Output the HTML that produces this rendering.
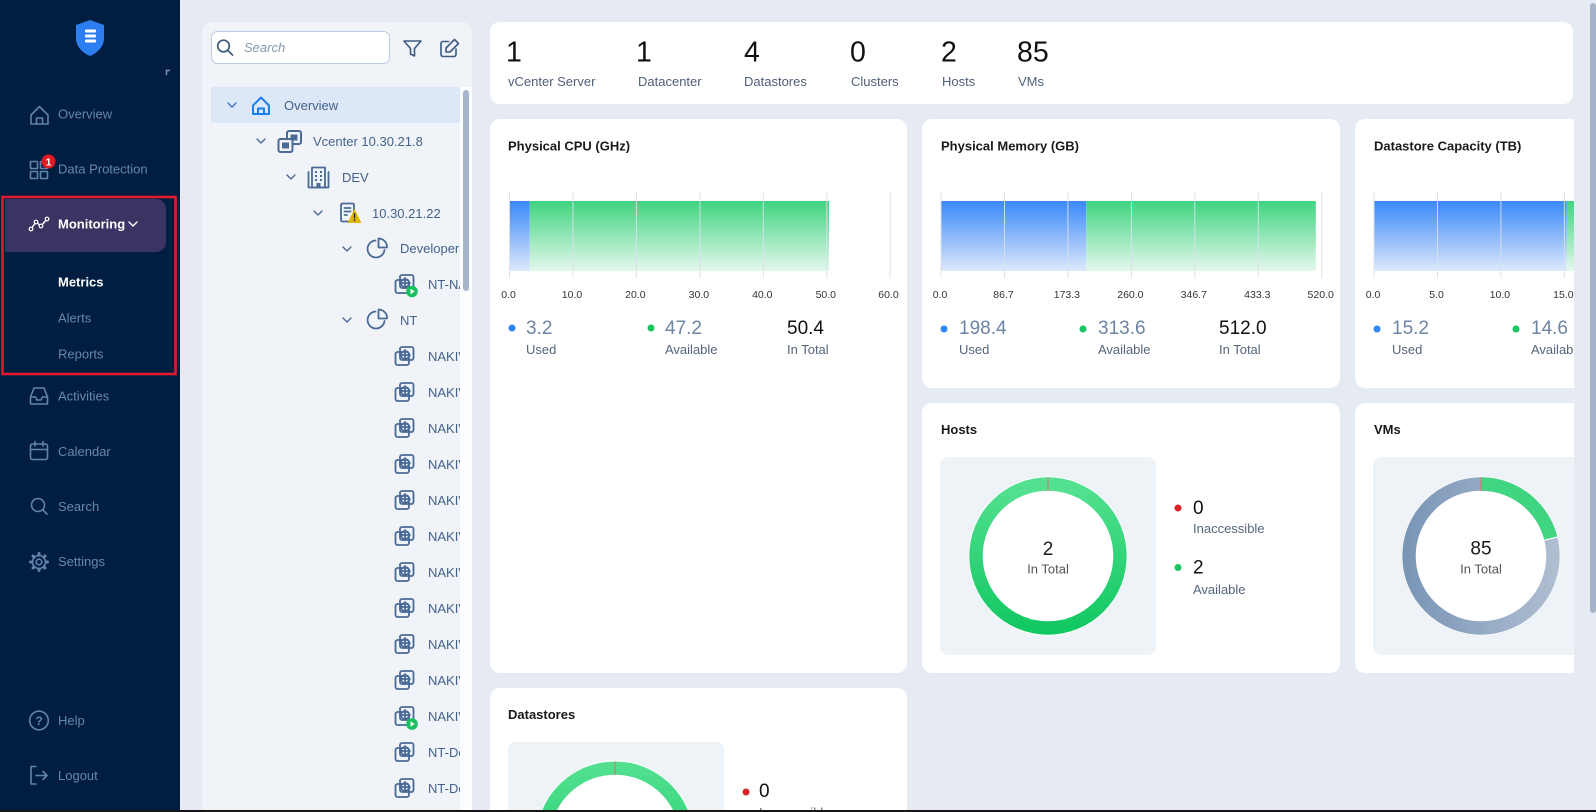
<!DOCTYPE html>
<html>
<head>
<meta charset="utf-8">
<style>
html,body{margin:0;padding:0;width:1596px;height:812px;overflow:hidden;background:#e6eaf2;}
svg{display:block;font-family:"Liberation Sans",Arial,sans-serif;}
.nav{font-size:13px;fill:#6886ae;}
.tr{font-size:13px;fill:#45618a;}
.num{font-size:28.5px;fill:#111;}
.lab{font-size:13px;fill:#4f5f78;}
.ttl{font-size:13px;font-weight:bold;fill:#1a1a1a;}
.tick{font-size:10.5px;fill:#333;text-anchor:middle;}
.val{font-size:19px;fill:#6d84a4;}
.tot{font-size:19px;fill:#111;}
.ll{font-size:13px;fill:#55657b;}
.ic{fill:none;stroke:#6383ab;stroke-width:1.6;stroke-linejoin:round;stroke-linecap:round;}
.ti{fill:none;stroke:#4a6a95;stroke-width:1.8;stroke-linejoin:round;stroke-linecap:round;}
.ch{fill:none;stroke:#4b6c98;stroke-width:1.4;stroke-linecap:round;stroke-linejoin:round;}
</style>
</head>
<body>
<svg width="1596" height="812" viewBox="0 0 1596 812" xmlns="http://www.w3.org/2000/svg">
<defs>
  <linearGradient id="gb" x1="0" y1="0" x2="0" y2="1"><stop offset="0" stop-color="#3a88f7"/><stop offset="1" stop-color="#dde9fd"/></linearGradient>
  <linearGradient id="gg" x1="0" y1="0" x2="0" y2="1"><stop offset="0" stop-color="#3fd47f"/><stop offset="1" stop-color="#e4f8ed"/></linearGradient>
  <linearGradient id="dh" x1="0" y1="0" x2="0" y2="1"><stop offset="0" stop-color="#54e191"/><stop offset="1" stop-color="#12c862"/></linearGradient>
  <linearGradient id="dhu" gradientUnits="userSpaceOnUse" x1="0" y1="761" x2="0" y2="919"><stop offset="0" stop-color="#54e191"/><stop offset="1" stop-color="#12c862"/></linearGradient>
  <linearGradient id="dv" x1="0" y1="0" x2="1" y2="0"><stop offset="0" stop-color="#7a96b7"/><stop offset="1" stop-color="#aebdd0"/></linearGradient>
  <linearGradient id="dvg" x1="0" y1="0" x2="1" y2="1"><stop offset="0" stop-color="#55e192"/><stop offset="1" stop-color="#3bd37d"/></linearGradient>
  <clipPath id="main"><rect x="490" y="0" width="1084" height="810"/></clipPath>
  <clipPath id="tree"><rect x="202" y="80" width="258" height="730"/></clipPath>
</defs>

<!-- page bg -->
<rect x="0" y="0" width="1596" height="812" fill="#e6eaf2"/>

<!-- ============ SIDEBAR ============ -->
<rect x="0" y="0" width="180" height="812" fill="#011e40"/>
<path d="M90 20 L104 25 L104 38 C104 47 97 53 90 56 C83 53 76 47 76 38 L76 25 Z" fill="#2d7ff0"/>
<rect x="85" y="29.5" width="11" height="3" rx="1" fill="#fff"/>
<rect x="85" y="34.5" width="11" height="3" rx="1" fill="#fff"/>
<rect x="85" y="39.5" width="11" height="3" rx="1" fill="#fff"/>
<path d="M166.5 75 V70.5 H170" fill="none" stroke="#8494ab" stroke-width="1.5"/>

<!-- Overview -->
<path class="ic" d="M31 115 L39.5 106.5 L48 115 V124 H31 Z M36.5 124 V118 H42.5 V124"/>
<text class="nav" x="58" y="118.5">Overview</text>
<!-- Data Protection -->
<rect class="ic" x="30.5" y="161.5" width="7" height="7" rx="0.5"/>
<rect class="ic" x="40.5" y="161.5" width="7" height="7" rx="0.5"/>
<rect class="ic" x="30.5" y="171.5" width="7" height="7" rx="0.5"/>
<rect class="ic" x="40.5" y="171.5" width="7" height="7" rx="0.5"/>
<circle cx="48.5" cy="161.5" r="7" fill="#e01b24"/>
<text x="48.5" y="165.5" font-size="10.5" font-weight="bold" fill="#fff" text-anchor="middle">1</text>
<text class="nav" x="58" y="173.5">Data Protection</text>

<!-- Monitoring highlight -->
<path d="M5 199 H156 A10 10 0 0 1 166 209 V242 A10 10 0 0 1 156 252 H5 Z" fill="#3b3462"/>
<polyline points="31,229 36,222 41,226 47,219" fill="none" stroke="#fff" stroke-width="1.4"/>
<circle cx="31" cy="229" r="1.8" fill="#3b3462" stroke="#fff" stroke-width="1.2"/>
<circle cx="36" cy="222" r="1.8" fill="#3b3462" stroke="#fff" stroke-width="1.2"/>
<circle cx="41" cy="226" r="1.8" fill="#3b3462" stroke="#fff" stroke-width="1.2"/>
<circle cx="47" cy="219" r="1.8" fill="#3b3462" stroke="#fff" stroke-width="1.2"/>
<text x="58" y="228.5" font-size="13" font-weight="bold" fill="#fff">Monitoring</text>
<polyline points="129,222 133,226 137,222" fill="none" stroke="#fff" stroke-width="1.4" stroke-linecap="round"/>
<text x="58" y="286.5" font-size="13" font-weight="bold" fill="#fff">Metrics</text>
<text class="nav" x="58" y="322.5">Alerts</text>
<text class="nav" x="58" y="358.5">Reports</text>
<rect x="2.5" y="197" width="173" height="177" fill="none" stroke="#e21b2c" stroke-width="2.6"/>

<!-- Activities -->
<path class="ic" d="M30.5 397 L34 388 H44 L47.5 397 V404 H30.5 Z M30.5 397 H35.5 L37 400 H41 L42.5 397 H47.5"/>
<text class="nav" x="58" y="400.5">Activities</text>
<!-- Calendar -->
<rect class="ic" x="30.5" y="444" width="17" height="15.5" rx="2"/>
<path class="ic" d="M30.5 449.5 H47.5 M35 441.5 V446 M43 441.5 V446"/>
<text class="nav" x="58" y="456">Calendar</text>
<!-- Search -->
<circle class="ic" cx="38" cy="505" r="6.5"/>
<path class="ic" d="M42.8 509.8 L47 514"/>
<text class="nav" x="58" y="511">Search</text>
<!-- Settings -->
<g transform="translate(39 562)">
  <circle class="ic" r="6.5"/>
  <circle class="ic" r="2.8"/>
  <g stroke="#6383ab" stroke-width="3" stroke-linecap="round">
    <line x1="0" y1="-7" x2="0" y2="-8.5"/><line x1="0" y1="7" x2="0" y2="8.5"/>
    <line x1="-7" y1="0" x2="-8.5" y2="0"/><line x1="7" y1="0" x2="8.5" y2="0"/>
    <line x1="4.9" y1="4.9" x2="6" y2="6"/><line x1="-4.9" y1="-4.9" x2="-6" y2="-6"/>
    <line x1="4.9" y1="-4.9" x2="6" y2="-6"/><line x1="-4.9" y1="4.9" x2="-6" y2="6"/>
  </g>
</g>
<text class="nav" x="58" y="566">Settings</text>
<!-- Help -->
<circle class="ic" cx="39" cy="720.5" r="9.3"/>
<text x="39" y="725" font-size="12" font-weight="bold" fill="#6383ab" text-anchor="middle">?</text>
<text class="nav" x="58" y="725">Help</text>
<!-- Logout -->
<path class="ic" d="M36 766.5 H31 V784 H36 M36 775.5 H47 M43 771.5 L47 775.5 L43 779.5"/>
<text class="nav" x="58" y="780">Logout</text>

<!-- ============ TREE PANEL ============ -->
<path d="M202 810 V32 A10 10 0 0 1 212 22 H462 A10 10 0 0 1 472 32 V810 Z" fill="#f0f4f9"/>
<rect x="211.5" y="31.5" width="178" height="32" rx="6" fill="#fff" stroke="#bccbe0"/>
<circle cx="223.5" cy="46" r="5.8" fill="none" stroke="#3d5a80" stroke-width="1.7"/>
<path d="M227.8 50.3 L232.5 55" stroke="#3d5a80" stroke-width="1.7" stroke-linecap="round"/>
<text x="244" y="52" font-size="13" font-style="italic" fill="#8798b0">Search</text>
<path d="M404 41 H421 L414.5 48.5 V56 L410.5 54 V48.5 Z" fill="none" stroke="#3d5a80" stroke-width="1.6" stroke-linejoin="round"/>
<path d="M448.5 41.5 H443 A2 2 0 0 0 441 43.5 V54.5 A2 2 0 0 0 443 56.5 H454 A2 2 0 0 0 456 54.5 V49" fill="none" stroke="#3d5a80" stroke-width="1.6" stroke-linecap="round"/>
<path d="M454.5 39.5 L458.5 43.5 L450 52 H446 V48 Z" fill="none" stroke="#3d5a80" stroke-width="1.6" stroke-linejoin="round"/>

<rect x="460" y="87" width="12" height="723" fill="#fcfdfe"/>
<rect x="463" y="90" width="6" height="201" rx="3" fill="#a6b5c9"/>

<g clip-path="url(#tree)">
<rect x="211" y="87" width="249" height="36" fill="#dce8f8"/>
<polyline points="228,103 232,107 236,103" fill="none" stroke="#3a78d0" stroke-width="1.4" stroke-linecap="round"/>
<path d="M253 105.5 L261 97.5 L269 105.5 V114 H253 Z M258 114 V108.5 H264 V114" fill="none" stroke="#1a7ff0" stroke-width="2" stroke-linejoin="round"/>
<text class="tr" x="284" y="110">Overview</text>

<polyline class="ch" points="257,139 261,143 265,139"/>
<rect x="287" y="131" width="14" height="13" rx="2" fill="none" stroke="#4a6a95" stroke-width="2"/>
<rect x="290.5" y="134.5" width="7" height="6" fill="#4a6a95"/>
<rect x="278.5" y="139" width="14" height="13" rx="2" fill="#f0f4f9" stroke="#4a6a95" stroke-width="2"/>
<rect x="282" y="142.5" width="7" height="6" fill="#4a6a95"/>
<text class="tr" x="313" y="146">Vcenter 10.30.21.8</text>

<polyline class="ch" points="287,175 291,179 295,175"/>
<rect class="ti" x="312" y="167.5" width="13" height="20"/>
<path class="ti" d="M308.5 172 V187.5 H328.5 V172"/>
<g fill="#4a6a95"><rect x="315" y="171" width="2" height="2"/><rect x="320" y="171" width="2" height="2"/><rect x="315" y="175" width="2" height="2"/><rect x="320" y="175" width="2" height="2"/><rect x="315" y="179" width="2" height="2"/><rect x="320" y="179" width="2" height="2"/><rect x="316.5" y="183" width="4" height="4.5"/></g>
<text class="tr" x="342" y="182">DEV</text>

<polyline class="ch" points="314,211 318,215 322,211"/>
<rect class="ti" x="341" y="203.5" width="13" height="18" rx="1.5"/>
<path class="ti" d="M344.5 208 H350.5 M344.5 211.5 H350.5 M344.5 215 H347"/>
<polygon points="354.5,209 361.5,223 347.5,223" fill="#e0b600"/>
<rect x="353.8" y="213" width="1.4" height="5.5" fill="#1e2a3a"/>
<rect x="353.8" y="219.5" width="1.4" height="1.5" fill="#1e2a3a"/>
<text class="tr" x="372" y="218">10.30.21.22</text>

<polyline class="ch" points="343,247 347,251 351,247"/>
<path class="ti" d="M375.5 240.5 A8.5 8.5 0 1 0 384.5 250"/>
<path class="ti" d="M378.5 238.5 V247.5 H387 A8.5 8.5 0 0 0 378.5 238.5 Z"/>
<text class="tr" x="400" y="253">Developers</text>

<rect class="ti" x="400" y="275" width="13.5" height="13" rx="2"/>
<rect class="ti" x="395.5" y="280" width="13.5" height="13" rx="2" fill="#f0f4f9"/>
<circle class="ti" cx="405" cy="283" r="4"/>
<path class="ti" d="M405 278 V288 M400 283 H410"/>
<circle cx="412" cy="291.5" r="5.8" fill="#16c25d"/>
<polygon points="410.5,288.8 414.8,291.5 410.5,294.2" fill="#fff"/>
<text class="tr" x="428" y="289">NT-NAKIVO</text>

<polyline class="ch" points="343,318 347,322 351,318"/>
<path class="ti" d="M375.5 311.5 A8.5 8.5 0 1 0 384.5 321"/>
<path class="ti" d="M378.5 309.5 V318.5 H387 A8.5 8.5 0 0 0 378.5 309.5 Z"/>
<text class="tr" x="400" y="325">NT</text>

<g id="vmrow">
<rect class="ti" x="400" y="347" width="13.5" height="13" rx="2"/>
<rect class="ti" x="395.5" y="352" width="13.5" height="13" rx="2" fill="#f0f4f9"/>
<circle class="ti" cx="405" cy="355" r="4"/>
<path class="ti" d="M405 350 V360 M400 355 H410"/>
<text class="tr" x="428" y="361">NAKIVO-VM</text>
</g>
<use href="#vmrow" y="36"/>
<use href="#vmrow" y="72"/>
<use href="#vmrow" y="108"/>
<use href="#vmrow" y="144"/>
<use href="#vmrow" y="180"/>
<use href="#vmrow" y="216"/>
<use href="#vmrow" y="252"/>
<use href="#vmrow" y="288"/>
<use href="#vmrow" y="324"/>
<use href="#vmrow" y="360"/>
<circle cx="412" cy="724" r="5.8" fill="#16c25d"/>
<polygon points="410.5,721.3 414.8,724 410.5,726.7" fill="#fff"/>
<g transform="translate(0 396)">
<rect class="ti" x="400" y="347" width="13.5" height="13" rx="2"/>
<rect class="ti" x="395.5" y="352" width="13.5" height="13" rx="2" fill="#f0f4f9"/>
<circle class="ti" cx="405" cy="355" r="4"/>
<path class="ti" d="M405 350 V360 M400 355 H410"/>
<text class="tr" x="428" y="361">NT-Dev-01</text>
</g>
<g transform="translate(0 432)">
<rect class="ti" x="400" y="347" width="13.5" height="13" rx="2"/>
<rect class="ti" x="395.5" y="352" width="13.5" height="13" rx="2" fill="#f0f4f9"/>
<circle class="ti" cx="405" cy="355" r="4"/>
<path class="ti" d="M405 350 V360 M400 355 H410"/>
<text class="tr" x="428" y="361">NT-Dev-02</text>
</g>
</g>

<!-- ============ MAIN CONTENT ============ -->
<g clip-path="url(#main)">
<!-- stats -->
<rect x="490" y="22" width="1083" height="82" rx="10" fill="#fff"/>
<text class="num" x="506" y="61.5">1</text><text class="lab" x="508" y="86">vCenter Server</text>
<text class="num" x="636" y="61.5">1</text><text class="lab" x="638" y="86">Datacenter</text>
<text class="num" x="744" y="61.5">4</text><text class="lab" x="744" y="86">Datastores</text>
<text class="num" x="850" y="61.5">0</text><text class="lab" x="851" y="86">Clusters</text>
<text class="num" x="941" y="61.5">2</text><text class="lab" x="942" y="86">Hosts</text>
<text class="num" x="1017" y="61.5">85</text><text class="lab" x="1018" y="86">VMs</text>

<!-- CPU card -->
<rect x="490" y="119" width="417" height="554" rx="10" fill="#fff"/>
<text class="ttl" x="508" y="150.5">Physical CPU (GHz)</text>
<rect x="509.5" y="201" width="20.3" height="70" fill="url(#gb)"/>
<rect x="529.8" y="201" width="299.2" height="70" fill="url(#gg)"/>
<g stroke="#d9e1ec" stroke-width="1" opacity="0.9">
<line x1="509.5" y1="192" x2="509.5" y2="278"/><line x1="573" y1="192" x2="573" y2="278"/><line x1="636.4" y1="192" x2="636.4" y2="278"/><line x1="699.9" y1="192" x2="699.9" y2="278"/><line x1="763.3" y1="192" x2="763.3" y2="278"/><line x1="826.8" y1="192" x2="826.8" y2="278"/><line x1="890.2" y1="192" x2="890.2" y2="278"/>
</g>
<text class="tick" x="508.5" y="298">0.0</text><text class="tick" x="572" y="298">10.0</text><text class="tick" x="635.4" y="298">20.0</text><text class="tick" x="698.9" y="298">30.0</text><text class="tick" x="762.3" y="298">40.0</text><text class="tick" x="825.8" y="298">50.0</text><text class="tick" x="888.5" y="298">60.0</text>
<circle cx="512" cy="328" r="3.5" fill="#2f86f6"/>
<text class="val" x="526" y="334">3.2</text><text class="ll" x="526" y="354">Used</text>
<circle cx="651" cy="328" r="3.5" fill="#19c463"/>
<text class="val" x="665" y="334">47.2</text><text class="ll" x="665" y="354">Available</text>
<text class="tot" x="787" y="334">50.4</text><text class="ll" x="787" y="354">In Total</text>

<!-- Memory card -->
<rect x="922" y="119" width="418" height="269" rx="10" fill="#fff"/>
<text class="ttl" x="941" y="150.5">Physical Memory (GB)</text>
<rect x="941" y="201" width="145.2" height="70" fill="url(#gb)"/>
<rect x="1086.2" y="201" width="229.6" height="70" fill="url(#gg)"/>
<g stroke="#d9e1ec" stroke-width="1" opacity="0.9">
<line x1="941" y1="192" x2="941" y2="278"/><line x1="1004.5" y1="192" x2="1004.5" y2="278"/><line x1="1067.9" y1="192" x2="1067.9" y2="278"/><line x1="1131.4" y1="192" x2="1131.4" y2="278"/><line x1="1194.8" y1="192" x2="1194.8" y2="278"/><line x1="1258.3" y1="192" x2="1258.3" y2="278"/><line x1="1321.7" y1="192" x2="1321.7" y2="278"/>
</g>
<text class="tick" x="940" y="298">0.0</text><text class="tick" x="1003.5" y="298">86.7</text><text class="tick" x="1066.9" y="298">173.3</text><text class="tick" x="1130.4" y="298">260.0</text><text class="tick" x="1193.8" y="298">346.7</text><text class="tick" x="1257.3" y="298">433.3</text><text class="tick" x="1320.7" y="298">520.0</text>
<circle cx="944" cy="329" r="3.5" fill="#2f86f6"/>
<text class="val" x="959" y="334">198.4</text><text class="ll" x="959" y="354">Used</text>
<circle cx="1083" cy="329" r="3.5" fill="#19c463"/>
<text class="val" x="1098" y="334">313.6</text><text class="ll" x="1098" y="354">Available</text>
<text class="tot" x="1219" y="334">512.0</text><text class="ll" x="1219" y="354">In Total</text>

<!-- Datastore capacity card (clipped at right) -->
<rect x="1355" y="119" width="219" height="269" rx="10" fill="#fff"/>
<rect x="1560" y="119" width="14" height="269" fill="#fff"/>
<text class="ttl" x="1374" y="150.5">Datastore Capacity (TB)</text>
<rect x="1374" y="201" width="192.7" height="70" fill="url(#gb)"/>
<rect x="1566.7" y="201" width="7.3" height="70" fill="url(#gg)"/>
<g stroke="#d9e1ec" stroke-width="1" opacity="0.9">
<line x1="1374" y1="192" x2="1374" y2="278"/><line x1="1437.5" y1="192" x2="1437.5" y2="278"/><line x1="1500.9" y1="192" x2="1500.9" y2="278"/><line x1="1564.4" y1="192" x2="1564.4" y2="278"/>
</g>
<text class="tick" x="1373" y="298">0.0</text><text class="tick" x="1436.5" y="298">5.0</text><text class="tick" x="1499.9" y="298">10.0</text><text class="tick" x="1563.4" y="298">15.0</text>
<circle cx="1377" cy="329" r="3.5" fill="#2f86f6"/>
<text class="val" x="1392" y="334">15.2</text><text class="ll" x="1392" y="354">Used</text>
<circle cx="1516" cy="329" r="3.5" fill="#19c463"/>
<text class="val" x="1531" y="334">14.6</text><text class="ll" x="1531" y="354">Available</text>

<!-- Hosts card -->
<rect x="922" y="403" width="418" height="270" rx="10" fill="#fff"/>
<text class="ttl" x="941" y="434">Hosts</text>
<rect x="940" y="457" width="216" height="198" rx="8" fill="#eef3f8"/>
<circle cx="1048" cy="556" r="79.5" fill="#fff"/>
<circle cx="1048" cy="556" r="72" fill="#fff" stroke="url(#dh)" stroke-width="13.4"/>
<line x1="1048" y1="477.5" x2="1048" y2="491" stroke="#e06a6a" stroke-width="1"/>
<text x="1048" y="555" font-size="19" fill="#1a1a1a" text-anchor="middle">2</text>
<text x="1048" y="573.5" font-size="13" fill="#555" text-anchor="middle">In Total</text>
<circle cx="1178" cy="508" r="3.5" fill="#d9222a"/>
<text class="tot" x="1193" y="514">0</text><text class="ll" x="1193" y="533">Inaccessible</text>
<circle cx="1178" cy="567.5" r="3.5" fill="#19c463"/>
<text class="tot" x="1193" y="573.5">2</text><text class="ll" x="1193" y="594">Available</text>

<!-- VMs card (clipped at right) -->
<rect x="1355" y="403" width="219" height="270" rx="10" fill="#fff"/>
<rect x="1560" y="403" width="14" height="270" fill="#fff"/>
<text class="ttl" x="1374" y="434">VMs</text>
<rect x="1373" y="457" width="201" height="198" rx="8" fill="#eef3f8"/>
<rect x="1560" y="457" width="14" height="198" fill="#eef3f8"/>
<circle cx="1481" cy="556" r="79.2" fill="#fff"/>
<circle cx="1481" cy="556" r="72" fill="#fff" stroke="url(#dv)" stroke-width="13.4"/>
<circle cx="1481" cy="556" r="72" fill="none" stroke="url(#dvg)" stroke-width="13.4" stroke-dasharray="95.5 1000" transform="rotate(-90 1481 556)"/>
<line x1="1544.1" y1="540.3" x2="1557.8" y2="536.9" stroke="#fff" stroke-width="1.2"/>
<line x1="1481" y1="477.5" x2="1481" y2="491" stroke="#e06a6a" stroke-width="1"/>
<text x="1481" y="554.5" font-size="19" fill="#1a1a1a" text-anchor="middle">85</text>
<text x="1481" y="573.5" font-size="13" fill="#555" text-anchor="middle">In Total</text>

<!-- Datastores card (cut at bottom) -->
<path d="M490 810 V698 A10 10 0 0 1 500 688 H897 A10 10 0 0 1 907 698 V810 Z" fill="#fff"/>
<text class="ttl" x="508" y="719">Datastores</text>
<path d="M508 810 V750 A8 8 0 0 1 516 742 H716 A8 8 0 0 1 724 750 V810 Z" fill="#eef3f8"/>
<path d="M541.4 810 A79.5 79.5 0 0 1 688.6 810 Z" fill="#fff"/>
<path d="M542.3 810 A78.7 78.7 0 0 1 687.7 810 L673 810 A65.3 65.3 0 0 0 557 810 Z" fill="url(#dhu)"/>
<line x1="615" y1="761.5" x2="615" y2="775" stroke="#e06a6a" stroke-width="1"/>
<circle cx="746" cy="792" r="3.5" fill="#d9222a"/>
<text class="tot" x="759" y="797">0</text>
<svg x="740" y="800" width="120" height="10" overflow="hidden"><text class="ll" x="19" y="17">Inaccessible</text></svg>
</g>

<!-- right scrollbar -->
<rect x="1590" y="3" width="6" height="610" rx="3" fill="#a4b3c8"/>

<!-- bottom dark line -->
<rect x="0" y="810" width="1596" height="2" fill="#151515"/>
</svg>
</body>
</html>
